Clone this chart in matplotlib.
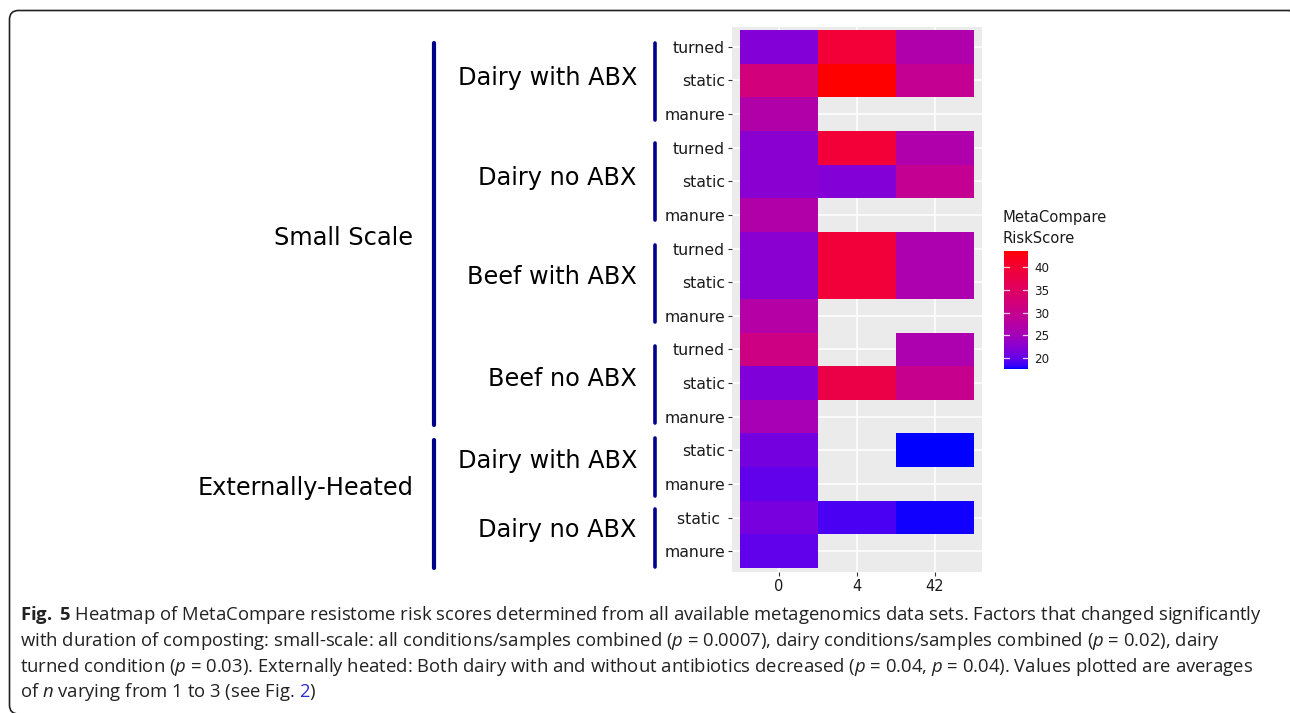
import numpy as np
import matplotlib
matplotlib.use("Agg")
import matplotlib.pyplot as plt
from matplotlib.colors import ListedColormap, Normalize
from matplotlib.patches import FancyBboxPatch
from matplotlib.transforms import blended_transform_factory, IdentityTransform
from matplotlib.lines import Line2D

# ---------------- data ----------------
days = ["0", "4", "42"]
row_labels = ["turned", "static", "manure",
              "turned", "static", "manure",
              "turned", "static", "manure",
              "turned", "static", "manure",
              "static", "manure",
              "static ", "manure"]
day0 = [22.0, 32.1, 26.9,
        22.5, 22.5, 26.9,
        22.5, 22.5, 27.3,
        31.2, 21.7, 25.6,
        21.0, 19.9,
        21.2, 19.9]
day4 = [39.6, 43.5, np.nan,
        39.6, 22.0, np.nan,
        39.3, 39.3, np.nan,
        np.nan, 37.8, np.nan,
        np.nan, np.nan,
        18.9, np.nan]
day42 = [26.7, 29.5, np.nan,
         26.7, 29.5, np.nan,
         26.2, 26.2, np.nan,
         26.2, 30.0, np.nan,
         17.6, np.nan,
         17.8, np.nan]
groups = ["Dairy with ABX", "Dairy no ABX", "Beef with ABX", "Beef no ABX",
          "Dairy with ABX", "Dairy no ABX"]
group_sizes = [3, 3, 3, 3, 2, 2]
scales = ["Small Scale", "Externally-Heated"]
scale_group_counts = [4, 2]
legend_title = "MetaCompare\nRiskScore"
legend_ticks = [20, 25, 30, 35, 40]

caption_lines = [
    r"$\mathbf{Fig.}$ $\mathbf{5}$ Heatmap of MetaCompare resistome risk scores determined from all available metagenomics data sets. Factors that changed significantly",
    r"with duration of composting: small-scale: all conditions/samples combined ($\mathit{p}$ = 0.0007), dairy conditions/samples combined ($\mathit{p}$ = 0.02), dairy",
    r"turned condition ($\mathit{p}$ = 0.03). Externally heated: Both dairy with and without antibiotics decreased ($\mathit{p}$ = 0.04, $\mathit{p}$ = 0.04). Values plotted are averages",
    r"of $\mathit{n}$ varying from 1 to 3 (see Fig.",
]
caption_link = "2"
caption_tail = ")"

# ---------------- colour scale (ggplot-like Lab gradient blue -> red) ----------------
def srgb_to_lab(rgb):
    rgb = np.asarray(rgb, float)
    lin = np.where(rgb <= 0.04045, rgb / 12.92, ((rgb + 0.055) / 1.055) ** 2.4)
    M = np.array([[0.4124, 0.3576, 0.1805], [0.2126, 0.7152, 0.0722], [0.0193, 0.1192, 0.9505]])
    xyz = M @ lin / np.array([0.95047, 1.0, 1.08883])
    f = np.where(xyz > 0.008856, np.cbrt(xyz), 7.787 * xyz + 16 / 116)
    return np.array([116 * f[1] - 16, 500 * (f[0] - f[1]), 200 * (f[1] - f[2])])

def lab_to_srgb(lab):
    L, a, b = lab
    fy = (L + 16) / 116
    fx = fy + a / 500
    fz = fy - b / 200
    f = np.array([fx, fy, fz])
    xyz = np.where(f > 0.2069, f ** 3, (f - 16 / 116) / 7.787) * np.array([0.95047, 1.0, 1.08883])
    Minv = np.array([[3.2406, -1.5372, -0.4986], [-0.9689, 1.8758, 0.0415], [0.0557, -0.2040, 1.0570]])
    lin = np.clip(Minv @ xyz, 0, 1)
    rgb = np.where(lin <= 0.0031308, 12.92 * lin, 1.055 * lin ** (1 / 2.4) - 0.055)
    return np.clip(rgb, 0, 1)

lab_lo = srgb_to_lab([0, 0, 1])
lab_hi = srgb_to_lab([1, 0, 0])
cols = [lab_to_srgb(lab_lo + t * (lab_hi - lab_lo)) for t in np.linspace(0, 1, 256)]
cmap = ListedColormap(cols)
cmap.set_bad((0, 0, 0, 0))

Z = np.column_stack([day0, day4, day42])
vmin, vmax = np.nanmin(Z), np.nanmax(Z)
norm = Normalize(vmin, vmax)

# ---------------- figure ----------------
W, H = 1290, 713
fig = plt.figure(figsize=(W / 100, H / 100), dpi=100)
fig.patch.set_facecolor("white")

ax = fig.add_axes([732 / W, 1 - 572 / H, 250 / W, 545 / H])
ax.set_facecolor("#EBEBEB")
nrow = len(row_labels)
ax.pcolormesh(np.arange(len(days) + 1) - 0.5, np.arange(nrow + 1) - 0.5,
              np.ma.masked_invalid(Z), cmap=cmap, norm=norm)
ax.set_xlim(-0.6, len(days) - 1 + 0.6)
ax.set_ylim(nrow - 0.5 + 0.12, -0.5 - 0.09)
ax.set_axisbelow(True)
ax.grid(True, color="white", linewidth=1.1)
for s in ax.spines.values():
    s.set_visible(False)
ax.set_xticks(range(len(days)), days)
ax.set_yticks(range(nrow), row_labels)
ax.tick_params(axis="both", length=3, width=0.8, color="#333333", labelcolor="#1A1A1A", pad=2)
ax.tick_params(axis="y", labelsize=11.3)
ax.tick_params(axis="x", labelsize=10.5)

# ---------------- group annotations ----------------
tr = blended_transform_factory(fig.transFigure, ax.transData)
navy = "#00008B"
# bar extents (row units, relative to first/last row of each group)
bar_pad = [(-0.11, 0.18), (-0.14, 0.15), (-0.11, 0.18), (-0.10, 0.20), (-0.37, 0.36), (-0.25, 0.47)]
label_off = [-0.07, -0.1, -0.15, -0.12, -0.18, -0.13]
start = 0
for g, n, (p0, p1), lo in zip(groups, group_sizes, bar_pad, label_off):
    first, last = start, start + n - 1
    ax.add_line(Line2D([655.5 / W, 655.5 / W], [first + p0, last + p1], transform=tr,
                       color=navy, lw=2.6, solid_capstyle="round", clip_on=False))
    ax.text(637 / W, (first + last) / 2 + lo, g, transform=tr, ha="right", va="center",
            fontsize=17.3, color="black", clip_on=False)
    start += n

scale_bar = [(-0.11, 11.25), (11.69, 15.5)]
scale_label_y = [5.69, 13.12]
for name, cnt, (b0, b1), ly in zip(scales, scale_group_counts, scale_bar, scale_label_y):
    ax.add_line(Line2D([433.5 / W, 433.5 / W], [b0, b1], transform=tr,
                       color=navy, lw=3.0, solid_capstyle="round", clip_on=False))
    ax.text(413 / W, ly, name, transform=tr, ha="right", va="center",
            fontsize=17.3, color="black", clip_on=False)

# ---------------- colourbar legend ----------------
cax = fig.add_axes([1004 / W, 1 - 369 / H, 24 / W, 118 / H])
grad = np.linspace(vmin, vmax, 300).reshape(-1, 1)
cax.imshow(grad, aspect="auto", origin="lower", extent=[0, 1, vmin, vmax], cmap=cmap, norm=norm)
cax.set_xlim(0, 1)
cax.set_ylim(vmin, vmax)
for v in legend_ticks:
    cax.plot([0, 0.2], [v, v], color="white", lw=0.9, alpha=0.8)
    cax.plot([0.8, 1], [v, v], color="white", lw=0.9, alpha=0.8)
for s in cax.spines.values():
    s.set_visible(False)
cax.set_xticks([])
cax.yaxis.tick_right()
cax.set_yticks(legend_ticks)
cax.tick_params(axis="y", length=0, pad=4.5, labelsize=8.6, labelcolor="#1A1A1A")
fig.text(1003 / W, 1 - 228 / H, legend_title, ha="left", va="center", fontsize=10.6,
         color="#1A1A1A", linespacing=1.5)

# ---------------- frame ----------------
frame = FancyBboxPatch((9.5, -1), 1299 - 9.5, (H - 10.5) + 1,
                       boxstyle="round,pad=0,rounding_size=9", transform=IdentityTransform(),
                       fill=False, edgecolor="#222222", linewidth=1.2)
fig.add_artist(frame)

# ---------------- caption ----------------
plt.rcParams["mathtext.fontset"] = "custom"
plt.rcParams["mathtext.rm"] = "Open Sans"
plt.rcParams["mathtext.it"] = "Open Sans:italic"
plt.rcParams["mathtext.bf"] = "Open Sans:bold"
cap_y = [615, 641, 667, 692]
cap_kw = dict(fontsize=13.3, family="Open Sans", color="#222222", ha="left", va="center")
texts = []
for line, y in zip(caption_lines, cap_y):
    texts.append(fig.text(20 / W, 1 - y / H, line, **cap_kw))
renderer = fig.canvas.get_renderer()
bb = texts[-1].get_window_extent(renderer)
t_a = fig.text(0, 0, "xx", **cap_kw)
t_b = fig.text(0, 0, "x x", **cap_kw)
space = t_b.get_window_extent(renderer).width - t_a.get_window_extent(renderer).width
t_a.remove(); t_b.remove()
t2 = fig.text((bb.x1 + space) / W, 1 - cap_y[-1] / H, caption_link,
              **{**cap_kw, "color": "#2B2BD9"})
bb2 = t2.get_window_extent(renderer)
fig.text(bb2.x1 / W, 1 - cap_y[-1] / H, caption_tail, **cap_kw)

fig.savefig("out.png", dpi=100)
